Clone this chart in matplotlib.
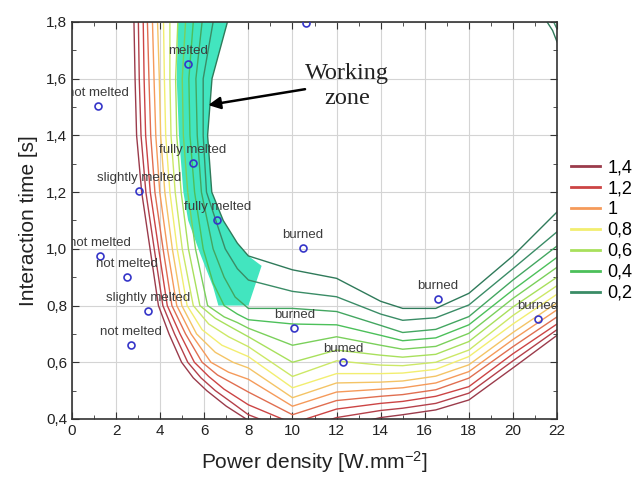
import matplotlib
matplotlib.use("Agg")
import matplotlib.pyplot as plt
import matplotlib.transforms as mtransforms
from matplotlib.lines import Line2D
from matplotlib.ticker import FuncFormatter, MultipleLocator

plt.rcParams['font.family'] = ['Liberation Sans', 'DejaVu Sans']
plt.rcParams['mathtext.default'] = 'regular'

# contour levels, outermost (1.4) to innermost (0.1)
levels = [1.4, 1.3, 1.2, 1.1, 1.0, 0.9, 0.8, 0.7, 0.6, 0.5, 0.4, 0.3, 0.2, 0.1]
level_colors = ['#9b3b4b', '#b4404a', '#cc4444', '#e06e50', '#f59a5a', '#f4c466',
                '#f2ee70', '#cce866', '#a8e05c', '#7ad05b', '#4cc05a', '#43a660',
                '#3a8c66', '#2f7a5a']

# left branch of each contour: x read at these heights
branch_y = [1.8, 1.6, 1.4, 1.2]
branch_x = [
    [2.81, 2.86, 2.93, 3.16],
    [3.01, 3.05, 3.13, 3.35],
    [3.23, 3.27, 3.34, 3.55],
    [3.42, 3.49, 3.57, 3.76],
    [3.65, 3.72, 3.80, 3.98],
    [3.88, 3.96, 4.02, 4.21],
    [4.15, 4.19, 4.25, 4.44],
    [4.44, 4.44, 4.49, 4.68],
    [4.80, 4.70, 4.75, 4.95],
    [5.15, 5.00, 5.05, 5.25],
    [5.50, 5.30, 5.35, 5.56],
    [5.90, 5.62, 5.68, 5.87],
    [6.40, 5.95, 5.95, 6.10],
    [7.05, 6.35, 6.15, 6.34],
]

# the bend of each contour (x, y) between the left branch and x = 8
knee_pts = [
    [(3.54, 1.0), (3.92, 0.8), (4.4, 0.7), (4.97, 0.6), (5.5, 0.545), (6.11, 0.5), (7.0, 0.445)],
    [(3.73, 1.0), (4.12, 0.8), (4.65, 0.7), (5.25, 0.6), (5.85, 0.545), (6.5, 0.5), (7.3, 0.455)],
    [(3.93, 1.0), (4.32, 0.8), (4.9, 0.7), (5.55, 0.6), (6.2, 0.55), (6.9, 0.505)],
    [(4.13, 1.0), (4.53, 0.8), (5.15, 0.7), (5.9, 0.6), (6.6, 0.555), (7.3, 0.525)],
    [(4.33, 1.0), (4.75, 0.8), (5.4, 0.7), (6.3, 0.6), (7.1, 0.565)],
    [(4.55, 1.0), (4.98, 0.8), (5.65, 0.7), (6.5, 0.635), (7.3, 0.6)],
    [(4.77, 1.0), (5.22, 0.8), (5.9, 0.715), (6.8, 0.66)],
    [(5.0, 1.0), (5.5, 0.8), (6.2, 0.735), (7.1, 0.69)],
    [(5.28, 1.0), (5.8, 0.8), (6.5, 0.755), (7.3, 0.72)],
    [(5.6, 1.0), (6.15, 0.8), (6.9, 0.76), (7.5, 0.74)],
    [(5.95, 1.0), (6.4, 0.88), (6.9, 0.8), (7.5, 0.77)],
    [(6.4, 1.0), (6.9, 0.9), (7.4, 0.83)],
    [(6.95, 1.0), (7.5, 0.93)],
    [(6.86, 1.1), (7.5, 1.02)],
]

# lower part of each contour: y read at these x
floor_x = [8, 10, 12, 14, 15, 16.5, 18, 20, 22]
floor_y = [
    [0.395, 0.33, 0.37, 0.405, 0.415, 0.432, 0.467, 0.58, 0.695],
    [0.415, 0.355, 0.405, 0.43, 0.438, 0.455, 0.491, 0.605, 0.715],
    [0.45, 0.385, 0.435, 0.455, 0.462, 0.48, 0.514, 0.63, 0.735],
    [0.495, 0.415, 0.465, 0.48, 0.486, 0.503, 0.544, 0.655, 0.76],
    [0.54, 0.445, 0.495, 0.505, 0.51, 0.527, 0.567, 0.68, 0.785],
    [0.58, 0.475, 0.527, 0.53, 0.534, 0.551, 0.591, 0.705, 0.81],
    [0.62, 0.51, 0.56, 0.56, 0.562, 0.575, 0.62, 0.735, 0.84],
    [0.655, 0.55, 0.605, 0.59, 0.588, 0.6, 0.643, 0.765, 0.87],
    [0.69, 0.60, 0.643, 0.625, 0.618, 0.628, 0.673, 0.795, 0.90],
    [0.72, 0.66, 0.69, 0.66, 0.646, 0.656, 0.702, 0.825, 0.935],
    [0.75, 0.735, 0.732, 0.695, 0.676, 0.686, 0.732, 0.855, 0.97],
    [0.79, 0.79, 0.779, 0.73, 0.705, 0.716, 0.761, 0.89, 1.01],
    [0.89, 0.85, 0.831, 0.77, 0.748, 0.757, 0.802, 0.93, 1.06],
    [0.975, 0.926, 0.896, 0.815, 0.79, 0.79, 0.843, 0.975, 1.13],
]

# small pieces in the top right corner (levels 0.1 and 0.2)
corner1_x = [21.55, 21.8, 22.0]
corner1_y = [1.8, 1.77, 1.73]
corner2_x = [21.85, 22.0]
corner2_y = [1.8, 1.775]

# working zone outline
zone_x = [4.8, 7.05, 6.35, 6.15, 6.34, 6.86, 7.5, 8.0, 8.6, 8.0, 6.64, 6.4, 5.8, 5.27, 5.05, 4.85, 4.75]
zone_y = [1.8, 1.8, 1.6, 1.4, 1.2, 1.1, 1.02, 0.975, 0.94, 0.8, 0.8, 0.866, 0.985, 1.1, 1.2, 1.4, 1.6]

# experimental samples
sample_x = [1.19, 5.28, 5.47, 3.05, 6.59, 1.27, 2.48, 3.43, 2.68, 10.46, 10.08, 12.3, 16.61, 21.12, 10.61]
sample_y = [1.504, 1.651, 1.302, 1.204, 1.102, 0.976, 0.902, 0.781, 0.661, 1.002, 0.722, 0.602, 0.823, 0.753, 1.798]
sample_labels = ['not melted', 'melted', 'fully melted', 'slightly melted', 'fully melted',
                 'not melted', 'not melted', 'slightly melted', 'not melted', 'burned',
                 'burned', 'bumed', 'burned', 'burned', 'burned']

legend_idx = [0, 2, 4, 6, 8, 10, 12]
legend_labels = ['1,4', '1,2', '1', '0,8', '0,6', '0,4', '0,2']

fig = plt.figure(figsize=(6.39, 4.79), dpi=100)
ax = fig.add_axes([0.1127, 0.1253, 0.759, 0.8288])

ax.fill(zone_x, zone_y, color='#42e5bf', lw=0, zorder=1)

for i in range(len(levels)):
    xs = list(branch_x[i]) + [p[0] for p in knee_pts[i]] + floor_x
    ys = list(branch_y) + [p[1] for p in knee_pts[i]] + floor_y[i]
    ax.plot(xs, ys, color=level_colors[i], lw=1.0, zorder=2)
ax.plot(corner1_x, corner1_y, color=level_colors[13], lw=1.0, zorder=2)
ax.plot(corner2_x, corner2_y, color=level_colors[12], lw=1.0, zorder=2)

ax.plot(sample_x, sample_y, 'o', mfc='none', mec='#3535c8', ms=5, mew=1.2, zorder=4)
lift = mtransforms.ScaledTranslation(0, 5 / 72, fig.dpi_scale_trans)
for x, y, lbl in zip(sample_x, sample_y, sample_labels):
    ax.text(x, y, lbl, transform=ax.transData + lift, ha='center', va='bottom',
            fontsize=9.5, color='#3c3c3c', clip_on=True, zorder=5)

ax.annotate('', xy=(6.18, 1.507), xytext=(10.57, 1.563),
            arrowprops=dict(arrowstyle='-|>', color='black', lw=1.8, mutation_scale=18,
                            shrinkA=0, shrinkB=0), zorder=6)
ax.text(12.47, 1.576, 'Working\nzone', family='Liberation Serif', fontsize=17.5,
        ha='center', va='center', linespacing=1.25, color='#222222', zorder=6)

ax.set_xlim(0, 22)
ax.set_ylim(0.4, 1.8)
ax.xaxis.set_major_locator(MultipleLocator(2))
ax.xaxis.set_minor_locator(MultipleLocator(1))
ax.yaxis.set_major_locator(MultipleLocator(0.2))
ax.yaxis.set_minor_locator(MultipleLocator(0.1))
ax.yaxis.set_major_formatter(FuncFormatter(lambda v, p: f"{v:.1f}".replace('.', ',')))
ax.grid(True, which='major', color='#d4d4d4', lw=0.8, zorder=0)
ax.set_axisbelow(True)
ax.tick_params(which='both', direction='in', top=True, right=True, colors='#333333',
               labelsize=11, labelcolor='#222222')
ax.tick_params(which='major', length=5)
ax.tick_params(which='minor', length=3)
for s in ax.spines.values():
    s.set_color('#333333')
    s.set_linewidth(1.2)

ax.set_xlabel('Power density [W.mm$^{-2}$]', fontsize=15, labelpad=8, color='#222222')
ax.set_ylabel('Interaction time [s]', fontsize=15, labelpad=6, color='#222222')

handles = [Line2D([], [], color=level_colors[i], lw=2) for i in legend_idx]
fig.legend(handles, legend_labels, loc='upper left', bbox_to_anchor=(0.893, 0.668),
           frameon=False, fontsize=13, handlelength=1.6, handletextpad=0.45,
           labelspacing=0.22, borderpad=0, borderaxespad=0)

fig.savefig('out.png', dpi=100)
